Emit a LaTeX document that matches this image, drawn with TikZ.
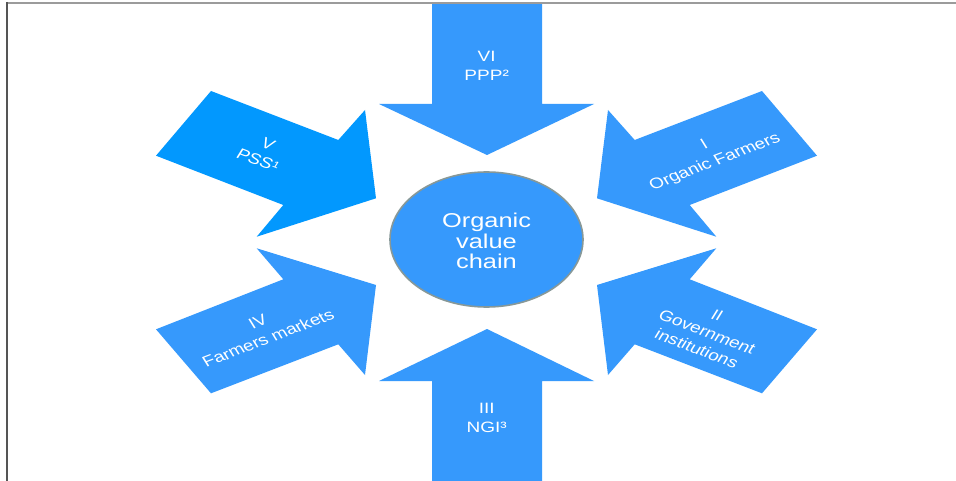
\documentclass[tikz,border=0pt]{standalone}
\usepackage{fontspec}
\setmainfont{Liberation Sans}
\usetikzlibrary{shapes.geometric}

\definecolor{arrowblue}{RGB}{54,153,252}
\definecolor{vividblue}{RGB}{2,152,254}
\definecolor{rimgray}{RGB}{135,152,152}
\definecolor{topline}{RGB}{155,155,155}
\definecolor{sideline}{RGB}{85,85,85}

% label inside a block arrow: name, position, angle, text
\newcommand\arrowlabel[4]{%
  \begin{scope}[shift={#2}, xscale=1.27]
    \node[lbl, rotate=#3] (#1) at (0,0) {#4};
  \end{scope}}

\begin{document}
\begin{tikzpicture}[x=1pt, y=-1pt,
  blockarrow/.style={fill=arrowblue, draw=none},
  lbl/.style={transform shape, text=white, align=center, inner sep=0pt,
              font=\fontsize{15}{18.5}\selectfont},
  hubtxt/.style={transform shape, text=white, align=center, inner sep=0pt,
              font=\fontsize{20}{20.5}\selectfont}]
\useasboundingbox (0,0) rectangle (956,481);
\fill[white] (0,0) rectangle (956,481);

% VI (top, pointing down)
\fill[blockarrow] (432,4) -- (542,4) -- (542,104) -- (594,104) -- (487,155)
  -- (379,104) -- (432,104) -- cycle;
% III (bottom, pointing up)
\fill[blockarrow] (487,329) -- (594,381) -- (542,381) -- (542,481)
  -- (432,481) -- (432,381) -- (379,381) -- cycle;
% V (upper left)
\fill[blockarrow, fill=vividblue] (156,155.7) -- (211,91) -- (338.3,140) -- (365,110)
  -- (376,198.3) -- (256.7,236.7) -- (283.3,205) -- cycle;
% I (upper right)
\fill[blockarrow] (817,155.7) -- (762,91) -- (634.7,140) -- (608,110)
  -- (597,198.3) -- (716.3,236.7) -- (689.7,205) -- cycle;
% IV (lower left)
\fill[blockarrow] (156,329.3) -- (211,393.3) -- (338.3,344.3) -- (365,375)
  -- (376,285) -- (256.7,248.3) -- (283.3,279.3) -- cycle;
% II (lower right)
\fill[blockarrow] (817,329.3) -- (762,393.3) -- (634.7,344.3) -- (608,375)
  -- (597,285) -- (716.3,248.3) -- (689.7,279.3) -- cycle;

% central ellipse
\node[ellipse, draw=rimgray, line width=1.6pt, fill=arrowblue,
      minimum width=193pt, minimum height=135pt, inner sep=0pt]
  (hub) at (486.5,239.5) {};
\begin{scope}[shift={(486.5,241)}, xscale=1.27]
  \node[hubtxt] (hubtext) at (0,0) {Organic\\value\\chain};
\end{scope}

% arrow labels
\arrowlabel{lblVI}{(486.7,66)}{0}{VI\\PPP²}
\arrowlabel{lblIII}{(486.7,418)}{0}{III\\NGI³}
\arrowlabel{lblI}{(710,154)}{26}{I\\Organic Farmers}
\arrowlabel{lblV}{(263,152)}{-26}{V\\PSS¹}
\arrowlabel{lblIV}{(263,330)}{26}{IV\\Farmers markets}
\arrowlabel{lblII}{(707,332)}{-26}{II\\Government\\institutions}

% frame lines
\draw[topline, line width=2pt] (6,3) -- (956,3);
\draw[sideline, line width=2pt] (7,2) -- (7,481);
\end{tikzpicture}
\end{document}
